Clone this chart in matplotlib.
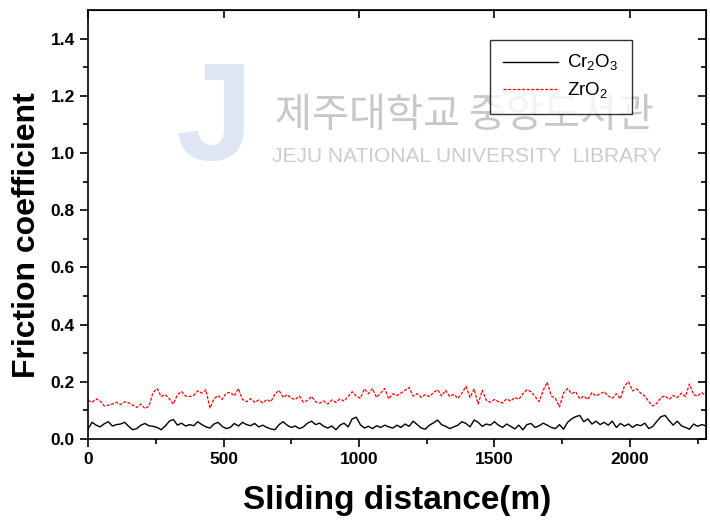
import numpy as np
import matplotlib
matplotlib.use("Agg")
from matplotlib import pyplot as plt

plt.rcParams['font.family'] = ['Liberation Sans', 'DejaVu Sans']
plt.rcParams['mathtext.fontset'] = 'custom'
plt.rcParams['mathtext.rm'] = 'Liberation Sans'

# sliding distance (m), one reading every 15 m
step = 15
dist = np.arange(0, 2281, step)

# friction coefficient
cr2o3 = [0.035, 0.058, 0.048, 0.042, 0.053, 0.060, 0.045, 0.050, 0.052, 0.058,
         0.044, 0.032, 0.036, 0.048, 0.054, 0.046, 0.044, 0.040, 0.032, 0.045,
         0.062, 0.068, 0.048, 0.055, 0.045, 0.050,
         0.046, 0.060, 0.050, 0.042, 0.038, 0.052, 0.058, 0.044, 0.036, 0.040,
         0.054, 0.045, 0.058, 0.050, 0.046, 0.054, 0.042, 0.048, 0.040, 0.035,
         0.032, 0.050, 0.060, 0.048, 0.040,
         0.045, 0.036, 0.042, 0.055, 0.062, 0.050, 0.055, 0.044, 0.038, 0.045,
         0.032, 0.048, 0.055, 0.042, 0.070, 0.076, 0.050, 0.038, 0.044, 0.036,
         0.046, 0.040, 0.048, 0.042, 0.038,
         0.048, 0.040, 0.052, 0.044, 0.062, 0.050, 0.038, 0.034, 0.048, 0.056,
         0.066, 0.050, 0.044, 0.036, 0.042, 0.048, 0.060, 0.054, 0.042, 0.066,
         0.058, 0.044, 0.052, 0.048, 0.060, 0.048,
         0.040, 0.052, 0.044, 0.035, 0.048, 0.032, 0.050, 0.054, 0.040, 0.046,
         0.055, 0.048, 0.040, 0.036, 0.050, 0.034, 0.058, 0.070, 0.078, 0.082,
         0.060, 0.070, 0.052, 0.062,
         0.050, 0.058, 0.048, 0.062, 0.040, 0.054, 0.045, 0.052, 0.040, 0.050,
         0.046, 0.055, 0.036, 0.044, 0.062, 0.078, 0.082, 0.064, 0.048, 0.062,
         0.046, 0.040, 0.034, 0.052, 0.044, 0.050, 0.046]

zro2 = [0.135, 0.128, 0.140, 0.132, 0.115, 0.118, 0.122, 0.128, 0.120, 0.130,
        0.126, 0.118, 0.110, 0.122, 0.106, 0.115, 0.162, 0.176, 0.148, 0.155,
        0.140, 0.122, 0.155, 0.166, 0.150, 0.148, 0.152, 0.168, 0.160, 0.172,
        0.108, 0.140, 0.152, 0.138, 0.160, 0.163, 0.150, 0.176, 0.138, 0.130,
        0.141, 0.128, 0.136, 0.126, 0.138, 0.130, 0.158, 0.170, 0.145, 0.155,
        0.142,
        0.138, 0.150, 0.128, 0.135, 0.148, 0.130, 0.125, 0.133, 0.122, 0.136,
        0.128, 0.140, 0.132, 0.148, 0.165, 0.150, 0.142, 0.175, 0.158, 0.176,
        0.145, 0.160, 0.176, 0.140, 0.158,
        0.152, 0.160, 0.170, 0.180, 0.150, 0.158, 0.145, 0.155, 0.148, 0.162,
        0.172, 0.150, 0.170, 0.148, 0.156, 0.142, 0.160, 0.184, 0.145, 0.175,
        0.122, 0.170, 0.135, 0.128, 0.138, 0.130,
        0.126, 0.140, 0.132, 0.145, 0.138, 0.158, 0.172, 0.165, 0.148, 0.130,
        0.170, 0.198, 0.150, 0.142, 0.112, 0.160, 0.176, 0.158, 0.165, 0.140,
        0.150, 0.138, 0.162, 0.150,
        0.158, 0.165, 0.150, 0.142, 0.158, 0.140, 0.185, 0.200, 0.168, 0.175,
        0.160, 0.150, 0.130, 0.115, 0.125, 0.145, 0.150, 0.138, 0.152, 0.145,
        0.160, 0.148, 0.192, 0.155, 0.150, 0.162, 0.152]

fig = plt.figure(figsize=(7.1, 5.25), dpi=100)
ax = fig.add_axes([0.124, 0.164, 0.870, 0.817])

# library watermark in the background
ax.text(0.205, 0.735, 'J', transform=ax.transAxes, ha='center', va='center',
        fontsize=100, fontweight='bold', color='#dde6f2', zorder=0)
ax.text(0.61, 0.755, '제주대학교 중앙도서관', transform=ax.transAxes,
        ha='center', va='center', fontsize=29, color='#c8c8c8',
        family=['Noto Sans CJK KR', 'DejaVu Sans'], zorder=0)
ax.text(0.614, 0.658, 'JEJU NATIONAL UNIVERSITY  LIBRARY', transform=ax.transAxes,
        ha='center', va='center', fontsize=15, color='#cccccc', zorder=0)

ax.plot(dist, cr2o3, color='black', lw=1.0, label='Cr$_2$O$_3$')
ax.plot(dist, zro2, color='red', lw=0.9, ls=(0, (2.5, 1.2)), label='ZrO$_2$')

ax.set_xlim(0, 2280)
ax.set_ylim(0, 1.5)
ax.set_xticks([0, 500, 1000, 1500, 2000])
ax.set_xticks(np.arange(250, 2280, 500), minor=True)
ax.set_yticks(np.arange(0, 1.41, 0.2))
ax.set_yticks(np.arange(0.1, 1.5, 0.2), minor=True)
ax.yaxis.set_major_formatter(matplotlib.ticker.FormatStrFormatter('%.1f'))

ax.tick_params(which='both', direction='out', width=1.2, labelsize=12.5)
ax.tick_params(which='major', length=6)
ax.tick_params(which='minor', length=3.5)
for t in ax.get_xticklabels() + ax.get_yticklabels():
    t.set_fontweight('bold')
for s in ax.spines.values():
    s.set_linewidth(1.2)

# mirrored ticks on top/right point inwards
ax2 = ax.secondary_xaxis('top')
ax2.set_xticks([0, 500, 1000, 1500, 2000], labels=[])
ax2.tick_params(direction='in', length=6, width=1.2)
ay2 = ax.secondary_yaxis('right')
ay2.set_yticks(np.arange(0, 1.41, 0.2), labels=[])
ay2.set_yticks(np.arange(0.1, 1.5, 0.2), minor=True)
ay2.tick_params(which='major', direction='in', length=6, width=1.2)
ay2.tick_params(which='minor', direction='in', length=3.5, width=1.2)

ax.set_xlabel('Sliding distance(m)', fontsize=24, fontweight='bold', labelpad=13)
ax.set_ylabel('Friction coefficient', fontsize=23, fontweight='bold')
ax.yaxis.set_label_coords(-0.075, 0.475)

leg = ax.legend(loc='upper right', bbox_to_anchor=(0.880, 0.93), borderaxespad=0,
                fontsize=13.5, frameon=True, fancybox=False, handlelength=2.9,
                borderpad=0.7, labelspacing=0.4, handletextpad=0.5)
leg.get_frame().set_edgecolor('black')
leg.get_frame().set_linewidth(1.0)

plt.savefig('out.png', dpi=100)
